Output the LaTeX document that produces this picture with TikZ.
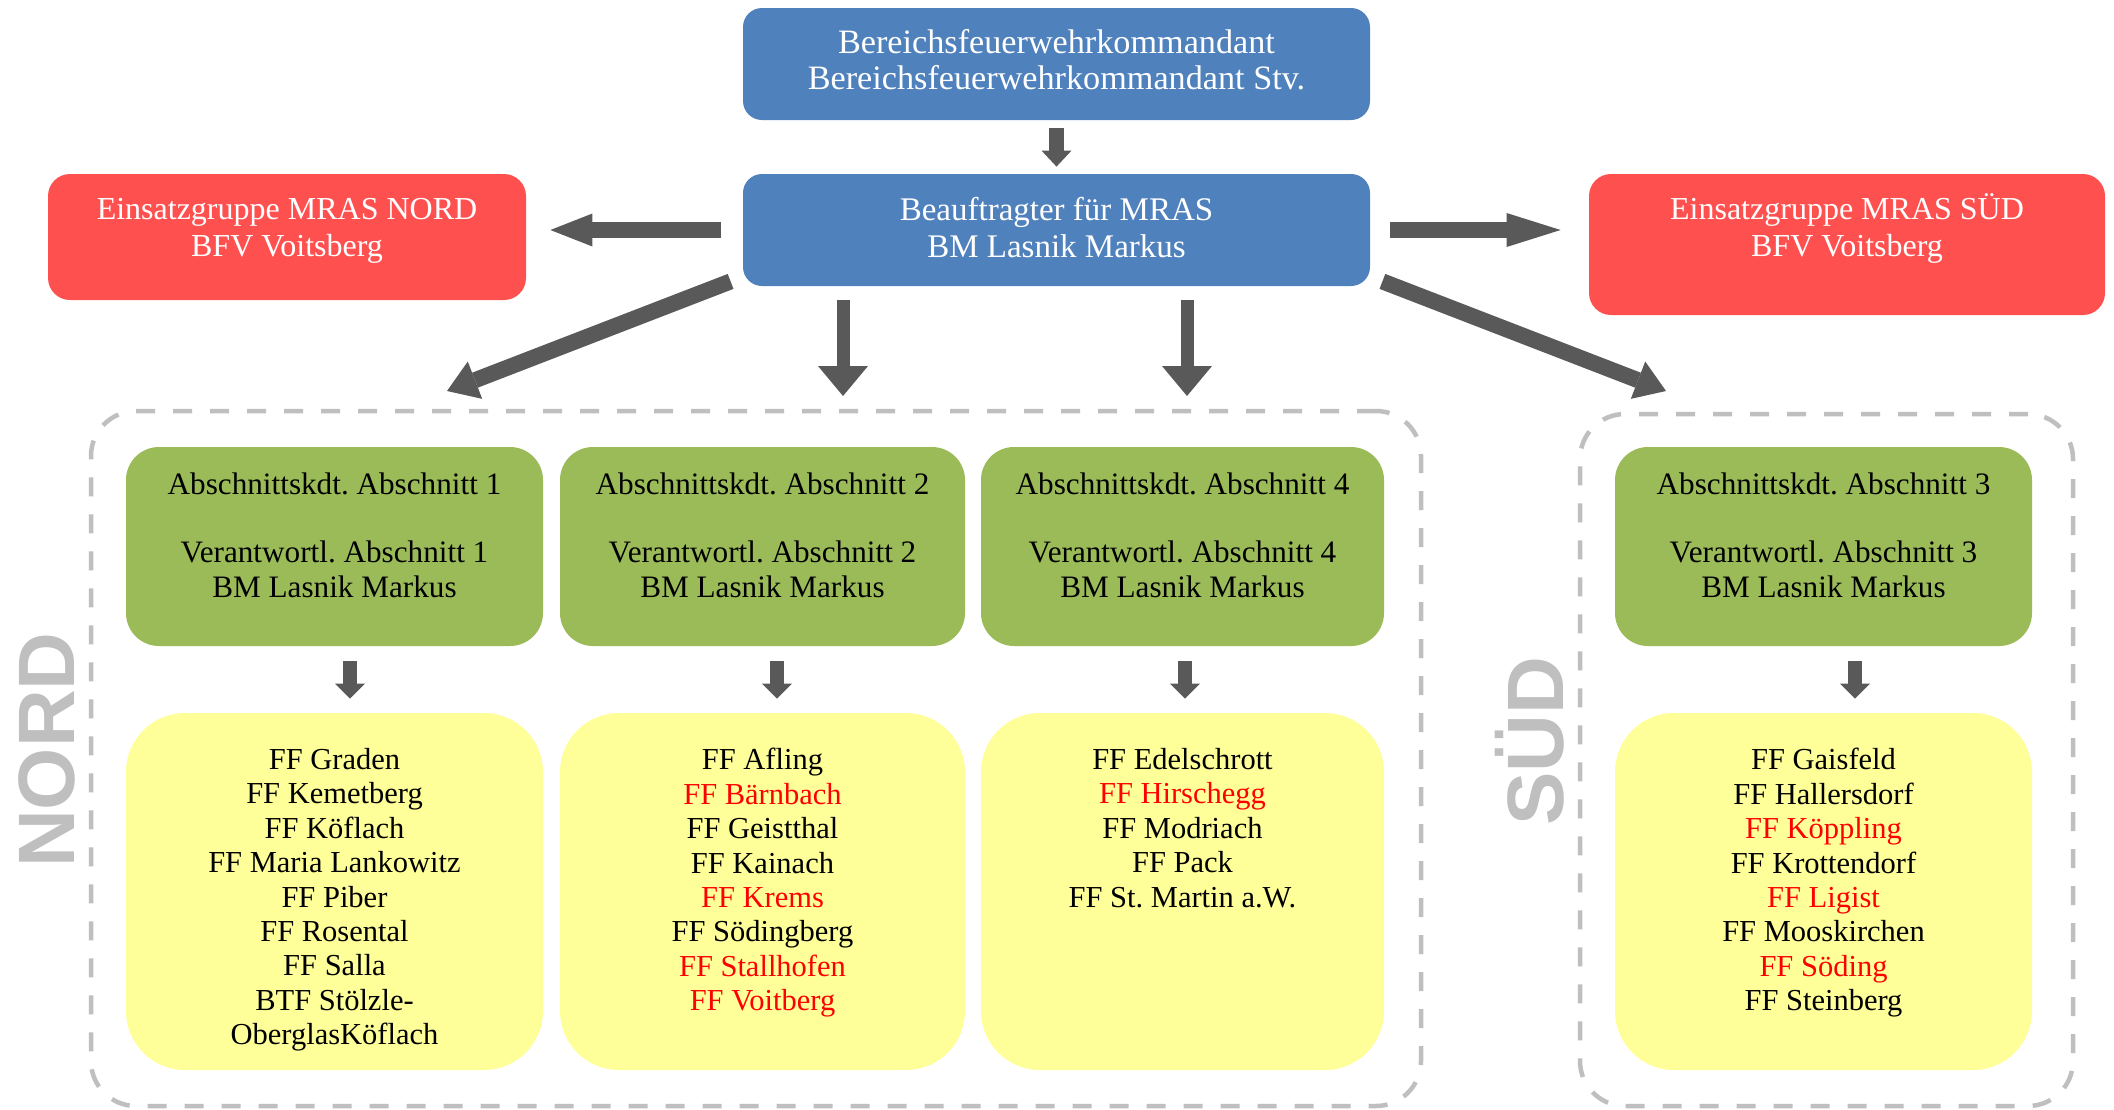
\documentclass[tikz,border=0pt]{standalone}
\usepackage{fontspec}
\setmainfont{Liberation Serif}
\newfontfamily\regionfont{Liberation Sans}
\usetikzlibrary{arrows.meta,fit}
\definecolor{boxblue}{HTML}{4F81BD}
\definecolor{boxred}{HTML}{FF5050}
\definecolor{boxgreen}{HTML}{9BBB59}
\definecolor{boxyellow}{HTML}{FFFF99}
\definecolor{arrowgray}{HTML}{595959}
\definecolor{framegray}{HTML}{BFBFBF}
\definecolor{ffred}{HTML}{FF0000}
\frenchspacing
\begin{document}
\begin{tikzpicture}[x=0.5pt,y=-0.5pt,
  bluebox/.style={fill=boxblue, rounded corners=9.5pt, inner sep=0pt, draw=none},
  redbox/.style={fill=boxred, rounded corners=11pt, inner sep=0pt, draw=none},
  greenbox/.style={fill=boxgreen, rounded corners=16.5pt, inner sep=0pt, draw=none},
  yellowbox/.style={fill=boxyellow, rounded corners=29.5pt, inner sep=0pt, draw=none},
  regionframe/.style={draw=framegray, line width=2.25pt, dash pattern=on 9.5pt off 9pt, rounded corners=22.5pt, inner sep=0pt},
  bluetext/.style={text=white, align=center, inner sep=0pt, anchor=north, font=\fontsize{16.5}{18.25}\selectfont},
  redtext/.style={text=white, align=center, inner sep=0pt, anchor=north, font=\fontsize{16}{18.5}\selectfont},
  greentext/.style={text=black, align=center, inner sep=0pt, anchor=north, font=\fontsize{15.6}{17.2}\selectfont},
  listtext/.style={text=black, align=center, inner sep=0pt, anchor=north, font=\fontsize{15.25}{17.2}\selectfont},
  regiontext/.style={text=framegray, inner sep=0pt, anchor=base, rotate=90, font=\regionfont\bfseries\fontsize{40}{40}\selectfont},
  barrow/.style args={#1/#2/#3}{draw=arrowgray, line width=#1, -{Triangle[length=#2,width=#3,line width=0pt]}}
]
\useasboundingbox (0,0) rectangle (2114,1109);
\fill[white] (0,0) rectangle (2114,1109);

% region frames
\node[regionframe, fit={(91,411) (1421,1106)}] (nordframe) {};
\node[regionframe, fit={(1580,414) (2073,1106)}] (suedframe) {};
\node[regiontext] (nordlabel) at (74,750) {NORD};
\node[regiontext] (suedlabel) at (1563,741) {SÜD};

% top boxes
\node[bluebox, fit={(743,8) (1370,120)}] (top) {};
\node[bluetext, font=\fontsize{17.1}{18.25}\selectfont] (toptext) at (1056.5,29) {Bereichsfeuerwehrkommandant\\Bereichsfeuerwehrkommandant Stv.};
\node[bluebox, fit={(743,174) (1370,286)}] (mras) {};
\node[bluetext] (mrastext) at (1056.5,197) {Beauftragter für MRAS\\BM Lasnik Markus};
\node[redbox, fit={(48,174) (526,300)}] (egnord) {};
\node[redtext] (egnordtext) at (287,198) {Einsatzgruppe MRAS NORD\\BFV Voitsberg};
\node[redbox, fit={(1589,174) (2105,315)}] (egsued) {};
\node[redtext] (egsuedtext) at (1847,193) {Einsatzgruppe MRAS SÜD\\BFV Voitsberg};

% section boxes
\node[greenbox, fit={(126,447) (543,646)}] (g1) {};
\node[greenbox, fit={(560,447) (965,646)}] (g2) {};
\node[greenbox, fit={(981,447) (1384,646)}] (g4) {};
\node[greenbox, fit={(1615,447) (2032,646)}] (g3) {};
\node[greentext] (g1text) at (334.5,472) {Abschnittskdt. Abschnitt 1\\ \mbox{}\\Verantwortl. Abschnitt 1\\BM Lasnik Markus};
\node[greentext] (g2text) at (762.5,472) {Abschnittskdt. Abschnitt 2\\ \mbox{}\\Verantwortl. Abschnitt 2\\BM Lasnik Markus};
\node[greentext] (g4text) at (1182.5,472) {Abschnittskdt. Abschnitt 4\\ \mbox{}\\Verantwortl. Abschnitt 4\\BM Lasnik Markus};
\node[greentext] (g3text) at (1823.5,472) {Abschnittskdt. Abschnitt 3\\ \mbox{}\\Verantwortl. Abschnitt 3\\BM Lasnik Markus};

\node[yellowbox, fit={(126,713) (543,1070)}] (y1) {};
\node[yellowbox, fit={(560,713) (965,1070)}] (y2) {};
\node[yellowbox, fit={(981,713) (1384,1070)}] (y4) {};
\node[yellowbox, fit={(1615,713) (2032,1070)}] (y3) {};
\node[listtext] (y1text) at (334.5,748) {FF Graden\\FF Kemetberg\\FF Köflach\\FF Maria Lankowitz\\FF Piber\\FF Rosental\\FF Salla\\BTF Stölzle-\\OberglasKöflach};
\node[listtext] (y2text) at (762.5,748) {FF Afling\\\textcolor{ffred}{FF Bärnbach}\\FF Geistthal\\FF Kainach\\\textcolor{ffred}{FF Krems}\\FF Södingberg\\\textcolor{ffred}{FF Stallhofen}\\\textcolor{ffred}{FF Voitberg}};
\node[listtext] (y4text) at (1182.5,748) {FF Edelschrott\\\textcolor{ffred}{FF Hirschegg}\\FF Modriach\\FF Pack\\FF St. Martin a.W.};
\node[listtext] (y3text) at (1823.5,748) {FF Gaisfeld\\FF Hallersdorf\\\textcolor{ffred}{FF Köppling}\\FF Krottendorf\\\textcolor{ffred}{FF Ligist}\\FF Mooskirchen\\\textcolor{ffred}{FF Söding}\\FF Steinberg};

% free arrow ends
\coordinate (tipleft) at (447,391);
\coordinate (tipright) at (1666,391);
\coordinate (tipdown1) at (843,396);
\coordinate (tipdown2) at (1187,396);

% arrows
\draw[barrow=7.5pt/8pt/15pt] ([yshift=-4pt]top.south) -- ([yshift=3.5pt]mras.north);
\draw[barrow=8pt/21pt/16.5pt] ([xshift=-11pt]mras.west) -- ([xshift=12pt]mras.west -| egnord.east);
\draw[barrow=8pt/27pt/17pt] ([xshift=10pt]mras.east) -- ([xshift=-14pt]mras.east -| egsued.west);
\draw[barrow=8pt/15pt/20pt] ([shift={(-12,-5)}]mras.south west) -- (tipleft);
\draw[barrow=8pt/15pt/20pt] ([shift={(12,-5)}]mras.south east) -- (tipright);
\draw[barrow=6.5pt/15pt/25pt] ([shift={(-213.5,14)}]mras.south) -- (tipdown1);
\draw[barrow=6.5pt/15pt/25pt] ([shift={(130.5,14)}]mras.south) -- (tipdown2);

\draw[barrow=7pt/7.5pt/15pt] ([shift={(15.5,15)}]g1.south) -- ([shift={(15.5,-14)}]y1.north);
\draw[barrow=7pt/7.5pt/15pt] ([shift={(14.5,15)}]g2.south) -- ([shift={(14.5,-14)}]y2.north);
\draw[barrow=7pt/7.5pt/15pt] ([shift={(2.5,15)}]g4.south) -- ([shift={(2.5,-14)}]y4.north);
\draw[barrow=7pt/7.5pt/15pt] ([shift={(31.5,15)}]g3.south) -- ([shift={(31.5,-14)}]y3.north);
\end{tikzpicture}
\end{document}
